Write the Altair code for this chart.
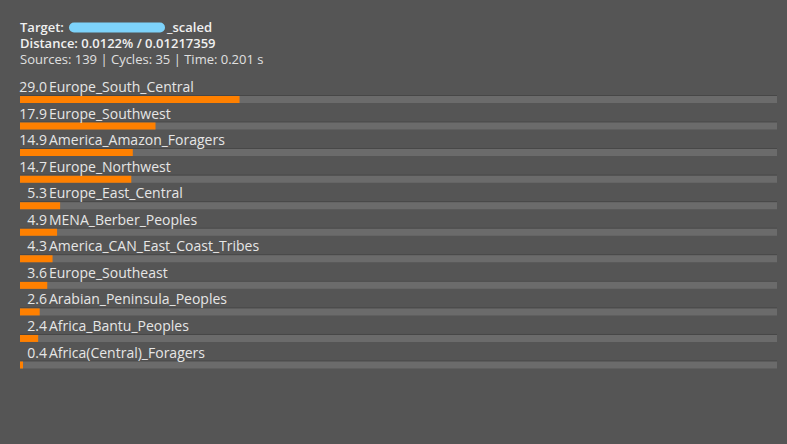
import altair as alt
import pandas as pd

names = ["Europe_South_Central", "Europe_Southwest", "America_Amazon_Foragers",
         "Europe_Northwest", "Europe_East_Central", "MENA_Berber_Peoples",
         "America_CAN_East_Coast_Tribes", "Europe_Southeast", "Arabian_Peninsula_Peoples",
         "Africa_Bantu_Peoples", "Africa(Central)_Foragers"]
values = [29.0, 17.9, 14.9, 14.7, 5.3, 4.9, 4.3, 3.6, 2.6, 2.4, 0.4]

header1 = "Target:"
header1b = "_scaled"
header2 = "Distance: 0.0122% / 0.01217359"
header3 = "Sources: 139 | Cycles: 35 | Time: 0.201 s"

df = pd.DataFrame({
    "name": names,
    "value": values,
    "row": list(range(len(names))),
    "label": [f"{v:.1f}" for v in values],
    "start": [0] * len(names),
    "full": [100] * len(names),
})

FONT = "Open Sans"
W, H = 787, 444
xs = alt.Scale(domain=[0, 100], range=[20, 777])
ys = alt.Scale(domain=[0, 10], range=[99.5, 365])

base = alt.Chart(df)

edge = base.mark_rule(color="#474747", strokeWidth=1, yOffset=-4).encode(
    x=alt.X("start:Q", scale=xs, axis=None),
    x2="full:Q",
    y=alt.Y("row:Q", scale=ys, axis=None),
)
track = base.mark_rule(color="#6b6b6b", strokeWidth=7).encode(
    x=alt.X("start:Q", scale=xs, axis=None),
    x2="full:Q",
    y=alt.Y("row:Q", scale=ys, axis=None),
)
bar = base.mark_rule(color="#ff8000", strokeWidth=7).encode(
    x=alt.X("start:Q", scale=xs, axis=None),
    x2="value:Q",
    y=alt.Y("row:Q", scale=ys, axis=None),
)
num = base.mark_text(align="right", baseline="alphabetic", dx=27, dy=-7.5,
                     font=FONT, fontSize=14, color="#e6e6e6").encode(
    x=alt.X("start:Q", scale=xs, axis=None),
    y=alt.Y("row:Q", scale=ys, axis=None),
    text="label:N",
)
lab = base.mark_text(align="left", baseline="alphabetic", dx=29, dy=-7.5,
                     font=FONT, fontSize=14, color="#e6e6e6").encode(
    x=alt.X("start:Q", scale=xs, axis=None),
    y=alt.Y("row:Q", scale=ys, axis=None),
    text="name:N",
)

hdr = pd.DataFrame({"t": [0]})
hbase = alt.Chart(hdr)
t1 = hbase.mark_text(align="left", baseline="alphabetic", font=FONT, fontSize=13,
                     fontWeight=600, color="#f0f0f0", text=header1).encode(
    x=alt.value(20), y=alt.value(32))
blob = hbase.mark_rule(color="#7dd3fb", strokeWidth=10, strokeCap="round").encode(
    x=alt.value(74), x2=alt.value(160), y=alt.value(27.5))
t1b = hbase.mark_text(align="left", baseline="alphabetic", font=FONT, fontSize=13,
                      fontWeight=600, color="#f0f0f0", text=header1b).encode(
    x=alt.value(167), y=alt.value(32))
t2 = hbase.mark_text(align="left", baseline="alphabetic", font=FONT, fontSize=13,
                     fontWeight=600, color="#f0f0f0", text=header2).encode(
    x=alt.value(20), y=alt.value(47.5))
t3 = hbase.mark_text(align="left", baseline="alphabetic", font=FONT, fontSize=13,
                     color="#e0e0e0", text=header3).encode(
    x=alt.value(20), y=alt.value(63.5))

chart = alt.layer(edge, track, bar, num, lab, t1, blob, t1b, t2, t3).properties(
    width=W, height=H, padding=0, autosize=alt.AutoSizeParams(type="none"),
    background="#555555",
).configure_view(stroke=None)

chart.save("out.html", embed_options={"renderer": "svg", "actions": False})
